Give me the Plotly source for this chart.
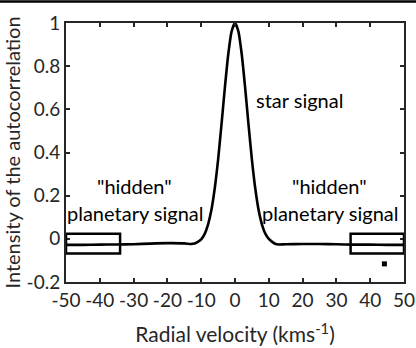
import plotly.graph_objects as go

# velocidad radial (km/s) y autocorrelación
velocidad = [-50, -45, -40, -35, -30, -25, -20, -15, -13, -12, -11, -10, -9, -8, -7,
             -6, -5, -4, -3, -2, -1, 0, 1, 2, 3, 4, 5, 6, 7, 8, 9, 10, 11, 12, 13,
             15, 20, 25, 30, 35, 40, 45, 50]
intensidad = [-0.028, -0.028, -0.027, -0.026, -0.025, -0.022, -0.020, -0.021, -0.024,
              -0.022, -0.014, -0.002, 0.022, 0.065, 0.132, 0.233, 0.367, 0.529, 0.700,
              0.854, 0.961, 1.000, 0.961, 0.854, 0.700, 0.529, 0.367, 0.233, 0.132,
              0.065, 0.023, 0.000, -0.014, -0.024, -0.026, -0.025, -0.024, -0.024,
              -0.025, -0.027, -0.027, -0.028, -0.028]

x_ticks = [-50, -40, -30, -20, -10, 0, 10, 20, 30, 40, 50]
x_etiquetas = ["-50", "-40", "-30", "-20", "-10", "0", "10", "20", "30", "40", "50"]
y_ticks = [-0.2, 0, 0.2, 0.4, 0.6, 0.8, 1]
y_etiquetas = ["-0.2", "0", "0.2", "0.4", "0.6", "0.8", "1"]

# zonas de la señal planetaria "oculta"
cajas_x = [(-50, -34), (34.2, 50)]
cajas_y = (-0.068, 0.023)
punto_x = [44.2]
punto_y = [-0.116]

FUENTE = "Lato"
GRIS = "#262626"

fig = go.Figure()
fig.add_trace(go.Scatter(
    x=velocidad, y=intensidad, mode="lines",
    line=dict(color="black", width=2.6, shape="spline", smoothing=0.6),
    showlegend=False, hoverinfo="skip",
))
fig.add_trace(go.Scatter(
    x=punto_x, y=punto_y, mode="markers",
    marker=dict(symbol="square", size=5, color="black"),
    showlegend=False, hoverinfo="skip",
))

for x0, x1 in cajas_x:
    fig.add_shape(type="rect", x0=x0, x1=x1, y0=cajas_y[0], y1=cajas_y[1],
                  line=dict(color="black", width=2.5))

# línea negra en el borde superior de la imagen
fig.add_shape(type="line", xref="paper", yref="paper",
              x0=-66 / 338, x1=350 / 338, y0=1 + 21.5 / 259, y1=1 + 21.5 / 259,
              line=dict(color="black", width=2.5))

textos = [
    ("star signal", 19.2, 0.643),
    ('"hidden"', -29.6, 0.245),
    ("planetary signal", -29.3, 0.12),
    ('"hidden"', 28.0, 0.245),
    ("planetary signal", 28.4, 0.12),
]
for t, x, y in textos:
    fig.add_annotation(x=x, y=y, text=t, showarrow=False,
                       font=dict(family=FUENTE, size=20, color="black"))

eje = dict(
    showline=True, linecolor=GRIS, linewidth=2, mirror="ticks",
    ticks="inside", ticklen=4, tickwidth=2, tickcolor=GRIS,
    showgrid=False, zeroline=False, automargin=False,
    tickfont=dict(family=FUENTE, size=19, color=GRIS),
)
fig.update_layout(
    width=416, height=348,
    margin=dict(l=66, r=12, t=23, b=66),
    plot_bgcolor="white", paper_bgcolor="white",
    xaxis=dict(eje, range=[-50, 50], tickmode="array", tickangle=0,
               tickvals=x_ticks, ticktext=x_etiquetas,
               title=dict(text="Radial velocity (kms<sup>-1</sup>)", standoff=18,
                          font=dict(family=FUENTE, size=21, color=GRIS))),
    yaxis=dict(eje, range=[-0.2, 1], tickmode="array",
               tickvals=y_ticks, ticktext=y_etiquetas,
               title=dict(text="Intensity of the autocorrelation", standoff=7,
                          font=dict(family=FUENTE, size=20, color=GRIS))),
)
fig.write_html("out.html", config={"displayModeBar": False},
               post_script="document.body.style.margin='0';")
